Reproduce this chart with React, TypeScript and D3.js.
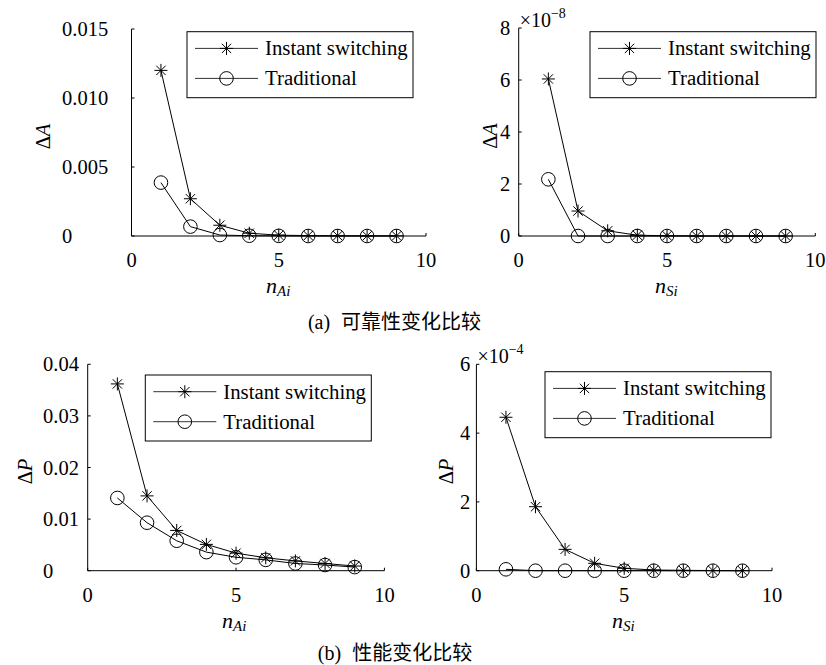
import React from 'react';
import { scaleLinear, line } from 'd3';

// x values shared by every panel
const nValues = [1, 2, 3, 4, 5, 6, 7, 8, 9];
const xTicks = [0, 5, 10];

// (a) reliability change, vs n_Ai
const relAInstant = [0.012, 0.0027, 0.00078, 0.0002, 0.00006, 0.00003, 0.00002, 0.00001, 0.00001];
const relATraditional = [0.00387, 0.00068, 0.00007, 0.00002, 0.00001, 0, 0, 0, 0];
const relATicks = [0, 0.005, 0.01, 0.015];
const relATickLabels = ['0', '0.005', '0.010', '0.015'];

// (a) reliability change, vs n_Si (x 1e-8)
const relSInstant = [6.04e-8, 0.96e-8, 0.2e-8, 0.03e-8, 0.01e-8, 0, 0, 0, 0];
const relSTraditional = [2.18e-8, 0, 0, 0, 0, 0, 0, 0, 0];
const relSTicks = [0, 2e-8, 4e-8, 6e-8, 8e-8];
const relSTickLabels = ['0', '2', '4', '6', '8'];

// (b) performance change, vs n_Ai
const perfAInstant = [0.0362, 0.0145, 0.0078, 0.0051, 0.0034, 0.0025, 0.0019, 0.0014, 0.0009];
const perfATraditional = [0.0141, 0.0093, 0.0058, 0.0036, 0.0026, 0.0021, 0.0014, 0.0011, 0.0007];
const perfATicks = [0, 0.01, 0.02, 0.03, 0.04];
const perfATickLabels = ['0', '0.01', '0.02', '0.03', '0.04'];

// (b) performance change, vs n_Si (x 1e-4)
const perfSInstant = [4.46e-4, 1.86e-4, 0.62e-4, 0.215e-4, 0.07e-4, 0.02e-4, 0.01e-4, 0.005e-4, 0];
const perfSTraditional = [0.04e-4, 0, 0, 0, 0, 0, 0, 0, 0];
const perfSTicks = [0, 2e-4, 4e-4, 6e-4];
const perfSTickLabels = ['0', '2', '4', '6'];

const legendLabels = ['Instant switching', 'Traditional'];

const serif = "'Liberation Serif', 'Times New Roman', serif";
const cjk = "'Liberation Serif', 'Noto Sans CJK SC', serif";

const Star = ({ x, y, r = 6.5 }) => {
  const d = r * 0.72;
  return (
    <g stroke="#000" strokeWidth={1}>
      <line x1={x - r} y1={y} x2={x + r} y2={y} />
      <line x1={x} y1={y - r} x2={x} y2={y + r} />
      <line x1={x - d} y1={y - d} x2={x + d} y2={y + d} />
      <line x1={x - d} y1={y + d} x2={x + d} y2={y - d} />
    </g>
  );
};

const Ring = ({ x, y, r = 6.8 }) => (
  <circle cx={x} cy={y} r={r} fill="none" stroke="#000" strokeWidth={1} />
);

type PanelProps = {
  left: number; right: number; top: number; bottom: number;
  yMax: number; yTicks: number[]; yTickLabels: string[]; yLabelX: number;
  instant: number[]; traditional: number[];
  yName: string; xSub: string; axisNameX: number; xNameX: number;
  exponent?: string; legend: { x: number; y: number };
};

const Panel = (p: PanelProps) => {
  const x = scaleLinear().domain([0, 10]).range([p.left, p.right]);
  const y = scaleLinear().domain([0, p.yMax]).range([p.bottom, p.top]);
  const path = line<number>().x((_, i) => x(nValues[i])).y(d => y(d));
  const lg = p.legend;
  return (
    <g style={{ fontFamily: serif }}>
      {/* axes */}
      <line x1={p.left} y1={p.bottom} x2={p.right} y2={p.bottom} stroke="#000" />
      <line x1={p.left} y1={p.bottom} x2={p.left} y2={p.top} stroke="#000" />
      {p.yTicks.map((t, i) => (
        <g key={'y' + i}>
          <line x1={p.left} x2={p.left + 3} y1={y(t)} y2={y(t)} stroke="#000" />
          <text x={p.yLabelX} y={y(t)} dy="0.35em" fontSize={20.5}>
            {p.yTickLabels[i]}
          </text>
        </g>
      ))}
      {xTicks.map(t => (
        <g key={'x' + t}>
          <line x1={x(t)} x2={x(t)} y1={p.bottom} y2={p.bottom - 3} stroke="#000" />
          <text x={x(t)} y={p.bottom + 31} textAnchor="middle" fontSize={20.5}>
            {t}
          </text>
        </g>
      ))}
      {p.exponent && (
        <text x={p.left + 1} y={p.top - 1} fontSize={20}>
          ×10
          <tspan dy={-9} fontSize={14}>{p.exponent}</tspan>
        </text>
      )}
      {/* axis names */}
      <text
        transform={`translate(${p.axisNameX},${(p.top + p.bottom) / 2 + 4}) rotate(-90)`}
        textAnchor="middle" fontSize={20.5}
      >
        Δ<tspan fontStyle="italic">{p.yName}</tspan>
      </text>
      <text x={p.xNameX} y={p.bottom + 57} fontSize={22} fontStyle="italic">
        n<tspan fontSize={15} dy={3}>{p.xSub}</tspan>
      </text>
      {/* series */}
      <path d={path(p.instant) || ''} fill="none" stroke="#000" strokeWidth={1} />
      <path d={path(p.traditional) || ''} fill="none" stroke="#000" strokeWidth={1} />
      {p.instant.map((v, i) => <Star key={'s' + i} x={x(nValues[i])} y={y(v)} />)}
      {p.traditional.map((v, i) => <Ring key={'c' + i} x={x(nValues[i])} y={y(v)} />)}
      {/* legend */}
      <rect x={lg.x} y={lg.y} width={226} height={66} fill="#fff" stroke="#000" strokeWidth={1} />
      {legendLabels.map((lab, i) => {
        const ry = lg.y + 16.7 + i * 30;
        return (
          <g key={lab}>
            <line x1={lg.x + 8} x2={lg.x + 71} y1={ry} y2={ry} stroke="#333" strokeWidth={1} />
            {i === 0 ? <Star x={lg.x + 39.5} y={ry} /> : <Ring x={lg.x + 39.5} y={ry} />}
            <text x={lg.x + 78} y={ry} dy="0.33em" fontSize={20.8}>{lab}</text>
          </g>
        );
      })}
    </g>
  );
};

export default function App() {
  return (
    <svg width={826} height={665} style={{ position: 'absolute', left: 0, top: 0, background: '#fff' }}>
      <rect width={826} height={665} fill="#fff" />
      <Panel left={131.5} right={426} top={29} bottom={236} yMax={0.015}
        yTicks={relATicks} yTickLabels={relATickLabels} yLabelX={62}
        instant={relAInstant} traditional={relATraditional}
        yName="A" xSub="Ai" axisNameX={50} xNameX={266} legend={{ x: 187, y: 31.7 }} />
      <Panel left={518.7} right={815.3} top={28} bottom={236} yMax={8e-8}
        yTicks={relSTicks} yTickLabels={relSTickLabels} yLabelX={500}
        instant={relSInstant} traditional={relSTraditional}
        yName="A" xSub="Si" axisNameX={497} xNameX={655} exponent="−8" legend={{ x: 590, y: 31.7 }} />
      <Panel left={87.7} right={384.4} top={364.3} bottom={570.7} yMax={0.04}
        yTicks={perfATicks} yTickLabels={perfATickLabels} yLabelX={43}
        instant={perfAInstant} traditional={perfATraditional}
        yName="P" xSub="Ai" axisNameX={32} xNameX={222} legend={{ x: 145.3, y: 375 }} />
      <Panel left={476.4} right={772} top={364.3} bottom={570.7} yMax={6e-4}
        yTicks={perfSTicks} yTickLabels={perfSTickLabels} yLabelX={460}
        instant={perfSInstant} traditional={perfSTraditional}
        yName="P" xSub="Si" axisNameX={453} xNameX={612} exponent="−4" legend={{ x: 545, y: 371.7 }} />
      <text x={394.5} y={329} textAnchor="middle" style={{ fontFamily: cjk }} fontSize={20}>
        (a)<tspan dx={11}>可靠性变化比较</tspan>
      </text>
      <text x={395} y={659.5} textAnchor="middle" style={{ fontFamily: cjk }} fontSize={20}>
        (b)<tspan dx={11}>性能变化比较</tspan>
      </text>
    </svg>
  );
}
